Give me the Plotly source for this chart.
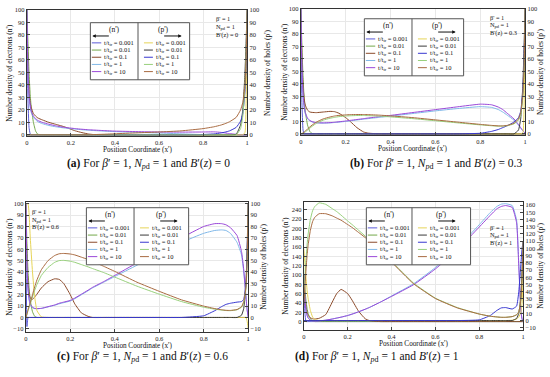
import plotly.graph_objects as go

W, H = 550, 377

# ---------------- data ----------------
x_pos = [0, 0.005, 0.01, 0.015, 0.02, 0.03, 0.04, 0.05, 0.07, 0.1,
         0.13, 0.15, 0.17, 0.2, 0.22, 0.25, 0.28, 0.3, 0.35, 0.4,
         0.5, 0.6, 0.7, 0.8, 0.85, 0.88, 0.9, 0.92, 0.95, 0.97,
         0.98, 0.99, 0.995, 1.0]

t_values = ["0.001", "0.01", "0.1", "1", "10"]
n_colors = ["#5b5bd8", "#74a84a", "#8b4a2a", "#80b8e8", "#9a48d8"]
p_colors = ["#e6d458", "#3a3a3a", "#3838d0", "#98d07c", "#a86a40"]

# panel (a)  B'(z) = 0
a_n1 = [100, 30, 6, 1, 0, 0, 0, 0, 0, 0,  0, 0, 0, 0, 0, 0, 0, 0, 0, 0,  0, 0, 0, 0, 0, 0, 0, 0, 0, 0,  0, 0, 0, 0]
a_n2 = [100, 75, 50, 33, 22, 10, 3, 0.5, 0, 0,  0, 0, 0, 0, 0, 0, 0, 0, 0, 0,  0, 0, 0, 0, 0, 0, 0, 0, 0, 0,  0, 0, 0, 0]
a_n3 = [100, 55, 35, 26, 22, 17, 15, 13.5, 12, 10,  8.5, 7.5, 6.5, 4.5, 3.2, 1.8, 0.7, 0.3, 0, 0,  0, 0, 0, 0, 0, 0, 0, 0, 0, 0,  0, 0, 0, 0]
a_n4 = [100, 50, 30, 22, 18, 14, 12, 10.5, 9, 7.5,  6.5, 6, 5.5, 5, 4.6, 4.1, 3.7, 3.5, 3, 2.6,  2, 1.5, 0.8, 0.2, 0, 0, 0, 0, 0, 0,  0, 0, 0, 0]
a_n5 = [100, 52, 32, 24, 19, 15, 13, 11.5, 10, 8.5,  7.3, 6.6, 6, 5.4, 5, 4.5, 4.1, 3.9, 3.4, 3,  2.6, 2.3, 2.2, 2.3, 2.4, 2, 1.5, 1, 0.4, 0,  0, 0, 0, 0]
a_p1 = [0, 0, 0, 0, 0, 0, 0, 0, 0, 0,  0, 0, 0, 0, 0, 0, 0, 0, 0, 0,  0, 0, 0, 0, 0, 0, 0, 0, 0, 0,  0, 2, 25, 100]
a_p2 = [0, 0, 0, 0, 0, 0, 0, 0, 0, 0,  0, 0, 0, 0, 0, 0, 0, 0, 0, 0,  0, 0, 0, 0, 0, 0, 0, 0, 0.5, 8,  20, 50, 75, 100]
a_p3 = [0, 0, 0, 0, 0, 0, 0, 0, 0, 0,  0, 0, 0, 0, 0, 0, 0, 0, 0, 0,  0, 0, 0, 0.3, 0.8, 1.5, 2.2, 3.2, 6, 11,  17, 35, 55, 100]
a_p4 = [0, 0, 0, 0, 0, 0, 0, 0, 0, 0,  0, 0, 0, 0, 0, 0, 0, 0, 0, 0,  0, 0, 0, 0, 0, 0, 0, 0, 0, 5,  15, 40, 65, 100]
a_p5 = [0, 0, 0, 0, 0, 0, 0, 0, 0, 0,  0, 0, 0, 0, 0, 0, 0, 0.2, 0.5, 0.9,  1.6, 2.3, 3.2, 5, 6.5, 7.8, 9, 10.5, 14, 20,  26, 40, 60, 100]

# panel (b)  B'(z) = 0.3
b_n1 = [100, 25, 3, 0, 0, 0, 0, 0, 0, 0,  0, 0, 0, 0, 0, 0, 0, 0, 0, 0,  0, 0, 0, 0, 0, 0, 0, 0, 0, 0,  0, 0, 0, 0]
b_n2 = [100, 70, 45, 28, 18, 7, 2, 0.3, 0, 0,  0, 0, 0, 0, 0, 0, 0, 0, 0, 0,  0, 0, 0, 0, 0, 0, 0, 0, 0, 0,  0, 0, 0, 0]
b_n3 = [100, 60, 38, 28, 23, 19, 17.5, 17.2, 17, 17.5,  18, 17.8, 16.5, 13, 10, 5, 1.5, 0.6, 0, 0,  0, 0, 0, 0, 0, 0, 0, 0, 0, 0,  0, 0, 0, 0]
b_n4 = [100, 50, 30, 21, 16, 12, 10.5, 9.6, 8.8, 8.6,  8.8, 9.1, 9.4, 10, 10.4, 11.1, 11.8, 12.2, 13.2, 14.2,  16.3, 18.4, 20.3, 21.8, 21.2, 19.5, 17.5, 15, 11, 7,  4.5, 2.5, 1.5, 0.5]
b_n5 = [100, 52, 32, 22, 17, 12.5, 10.8, 9.8, 9, 8.8,  9, 9.3, 9.7, 10.3, 10.8, 11.5, 12.2, 12.7, 13.8, 14.8,  17.1, 19.4, 21.7, 23.8, 23.3, 21.5, 19.5, 16.5, 12, 7.5,  5, 2.5, 1.5, 0.5]
b_p1 = [0, 0, 0, 0, 0, 0, 0, 0, 0, 0,  0, 0, 0, 0, 0, 0, 0, 0, 0, 0,  0, 0, 0, 0, 0, 0, 0, 0, 0, 0,  0, 1, 20, 100]
b_p2 = [0, 0, 0, 0, 0, 0, 0, 0, 0, 0,  0, 0, 0, 0, 0, 0, 0, 0, 0, 0,  0, 0, 0, 0, 0, 0, 0, 0, 0, 3,  12, 40, 70, 100]
b_p3 = [0, 0, 0, 0, 0, 0, 0, 0, 0, 0,  0, 0, 0, 0, 0, 0, 0, 0, 0, 0,  0, 0, 0, 0.5, 2, 3.5, 5, 6.5, 9.5, 13,  18, 35, 60, 100]
b_p4 = [0, 0.2, 0.5, 1, 1.6, 3, 4.5, 6, 8.5, 11,  12.5, 13.2, 13.8, 14.3, 14.5, 14.7, 14.7, 14.6, 14.2, 13.6,  12.2, 10.5, 8.8, 7.2, 6.5, 6.2, 6.2, 6.5, 8, 11,  15, 30, 50, 100]
b_p5 = [0, 0.3, 0.8, 1.5, 2.2, 4, 5.5, 7, 9.5, 12,  13.5, 14.3, 14.8, 15.2, 15.4, 15.5, 15.5, 15.4, 15, 14.4,  13, 11.2, 9.4, 7.6, 6.8, 6.4, 6.4, 6.8, 8.5, 12,  17, 32, 52, 100]

# panel (c)  B'(z) = 0.6
c_n1 = [100, -8, 0, 0, 0, 0, 0, 0, 0, 0,  0, 0, 0, 0, 0, 0, 0, 0, 0, 0,  0, 0, 0, 0, 0, 0, 0, 0, 0, 0,  0, 0, 0, 0]
c_n2 = [100, 65, 40, 25, 15, 5, 1, 0, 0, 0,  0, 0, 0, 0, 0, 0, 0, 0, 0, 0,  0, 0, 0, 0, 0, 0, 0, 0, 0, 0,  0, 0, 0, 0]
c_n3 = [100, 50, 30, 21, 17, 16, 18, 20.5, 26, 31.5,  34, 33.5, 30, 20, 12, 4, 1, 0, 0, 0,  0, 0, 0, 0, 0, 0, 0, 0, 0, 0,  0, 0, 0, 0]
c_n4 = [100, 44, 24, 15, 11, 8.5, 7.8, 7.7, 8, 9.3,  10.8, 12, 13, 14.5, 16.5, 20, 23.5, 26, 31, 36,  46, 56.5, 66, 74, 76.5, 77, 76.5, 74, 66, 55,  40, 18, 7, 0]
c_n5 = [100, 45, 25, 16, 12, 9, 8, 7.8, 8, 9.5,  11, 12.5, 13.5, 15, 17, 20.5, 24, 26.5, 31.5, 37,  48, 59, 70, 80, 82.5, 82.5, 81.5, 79, 72, 58,  42, 18, 7, 0]
c_p1 = [100, 100, 100, 90, 70, 40, 18, 6, 0.5, 0,  0, 0, 0, 0, 0, 0, 0, 0, 0, 0,  0, 0, 0, 0, 0, 0, 0, 0, 0, 0,  0, 0, -3, -10]
c_p2 = [0, 0, 0, 0, 0, 0, 0, 0, 0, 0,  0, 0, 0, 0, 0, 0, 0, 0, 0, 0,  0, 0, 0, 0, 0, 0, 0, 0, 0, 2,  8, 30, 60, 100]
c_p3 = [0, 0, 0, 0, 0, 0, 0, 0, 0, 0,  0, 0, 0, 0, 0, 0, 0, 0, 0, 0,  0, 0, 0, 1.5, 6, 9.5, 11.5, 12.5, 13.5, 14,  16, 30, 55, 100]
c_p4 = [0, 3, 6, 9, 12, 18, 24, 29, 37, 44,  48.5, 50, 50.2, 49.5, 48.5, 46.5, 44.5, 43, 39.5, 35.5,  27.5, 20.5, 14, 9, 7.3, 6.5, 6.1, 6, 6.8, 9,  13, 25, 45, 100]
c_p5 = [0, 3, 7, 10, 13, 20, 27, 33, 42, 50,  54.5, 56, 56.3, 55.8, 55, 53, 51, 49.5, 45, 40.5,  31, 23, 15.5, 10, 7.8, 6.8, 6.3, 6.2, 7, 9.5,  14, 27, 48, 100]

# panel (d)  B'(z) = 1
d_n1 = [100, 20, 0, 0, 0, 0, 0, 0, 0, 0,  0, 0, 0, 0, 0, 0, 0, 0, 0, 0,  0, 0, 0, 0, 0, 0, 0, 0, 0, 0,  0, 0, 0, 0]
d_n2 = [100, 70, 45, 28, 17, 6, 1.5, 0, 0, 0,  0, 0, 0, 0, 0, 0, 0, 0, 0, 0,  0, 0, 0, 0, 0, 0, 0, 0, 0, 0,  0, 0, 0, 0]
d_n3 = [100, 55, 32, 20, 13, 8, 6, 5.5, 7, 15,  42, 60, 69, 60, 46, 22, 6, 2, 0, 0,  0, 0, 0, 0, 0, 0, 0, 0, 0, 0,  0, 0, 0, 0]
d_n4 = [100, 50, 25, 14, 8, 3, 1.5, 1, 1.5, 3,  5.5, 7.5, 9.5, 13, 16, 21, 26.5, 30.5, 42, 55,  81, 116, 158, 208, 234, 247, 252, 253, 249, 218,  125, 22, 6, 0]
d_n5 = [100, 48, 24, 13, 7.5, 3, 1.5, 1, 1.5, 3,  5.5, 7.5, 9.5, 13, 16, 21, 26.5, 30.5, 42, 54,  79, 113, 154, 203, 228, 242, 247, 249, 245, 212,  118, 19, 5, 0]
d_p1 = [100, 80, 60, 42, 30, 14, 5, 1.5, 0, 0,  0, 0, 0, 0, 0, 0, 0, 0, 0, 0,  0, 0, 0, 0, 0, 0, 0, 0, 0.5, 2,  5, 12, 25, 60]
d_p2 = [0, 0, 0, 0, 0, 0, 0, 0, 0, 0,  0, 0, 0, 0, 0, 0, 0, 0, 0, 0,  0, 0, 0, 0, 0, 0, 0, 0, 0, 3,  10, 35, 70, 110]
d_p3 = [0, 0, 0, 0, 0, 0, 0, 0, 0, 0,  0, 0, 0, 0, 0, 0, 0, 0, 0, 0,  0, 0, 0, 1, 7, 14, 17.5, 18, 16, 20,  40, 80, 100, 110]
d_p4 = [30, 60, 85, 105, 120, 140, 152, 158, 163, 161,  155, 151, 146, 138, 133, 125, 117, 111, 97, 82,  52, 31, 18, 9, 6, 5, 4.5, 4.5, 5.5, 8,  12, 30, 60, 110]
d_p5 = [20, 45, 70, 90, 105, 125, 137, 143, 148, 148,  145, 142, 139, 133, 129, 122, 115, 110, 96, 81,  51, 30.5, 17.5, 9, 6, 5, 4.5, 4.5, 5.5, 8,  12, 30, 60, 110]

x_ticks = [0, 0.2, 0.4, 0.6, 0.8, 1]
x_tick_text = ["0", "0.2", "0.4", "0.6", "0.8", "1"]
ticks_0_100 = [0, 10, 20, 30, 40, 50, 60, 70, 80, 90, 100]
ticks_m10_100 = [-10, 0, 10, 20, 30, 40, 50, 60, 70, 80, 90, 100]
ticks_d_left = [0, 20, 40, 60, 80, 100, 120, 140, 160, 180, 200, 220, 240]
ticks_d_right = [-10, 0, 10, 20, 30, 40, 50, 60, 70, 80, 90, 100, 110, 120, 130, 140, 150, 160]

panel_letters = ["a", "b", "c", "d"]
field_values = ["0", "0.3", "0.6", "1"]

# ---------------- layout helpers ----------------
SERIF = "Liberation Serif"


def fx(p):
    return p / W


def fy(p):
    return 1 - p / H


panels = [
    dict(xd=(25, 247), yd=(6, 134), lr=[-0.8, 100], rr=[-0.8, 100],
         lt=ticks_0_100, rt=ticks_0_100,
         n=[a_n1, a_n2, a_n3, a_n4, a_n5], p=[a_p1, a_p2, a_p3, a_p4, a_p5],
         leg=(89, 19, 189, 137), info=(214, 15),
         ytl=8, ytr=268, xt=(136, 148), cap=(148, 163)),
    dict(xd=(301, 527), yd=(5, 133), lr=[-0.8, 100], rr=[-0.8, 100],
         lt=ticks_0_100, rt=ticks_0_100,
         n=[b_n1, b_n2, b_n3, b_n4, b_n5], p=[b_p1, b_p2, b_p3, b_p4, b_p5],
         leg=(365, 15, 465, 413), info=(490, 13.5),
         ytl=285, ytr=543, xt=(414, 147), cap=(437, 163)),
    dict(xd=(24, 248), yd=(201, 333), lr=[-12.5, 101.7], rr=[-12.5, 101.7],
         lt=ticks_m10_100, rt=ticks_m10_100,
         n=[c_n1, c_n2, c_n3, c_n4, c_n5], p=[c_p1, c_p2, c_p3, c_p4, c_p5],
         leg=(85, 207, 188, 133), info=(28, 211),
         ytl=8, ytr=264, xt=(136, 347.5), cap=(142, 359)),
    dict(xd=(304, 525), yd=(201, 331), lr=[-17.5, 257], rr=[-12.7, 164.5],
         lt=ticks_d_left, rt=ticks_d_right,
         n=[d_n1, d_n2, d_n3, d_n4, d_n5], p=[d_p1, d_p2, d_p3, d_p4, d_p5],
         leg=(367, 207, 472, 413), info=(490, 227),
         ytl=286, ytr=543, xt=(415, 346), cap=(378, 359)),
]

fig = go.Figure()
shapes = []
annotations = []
tick_font = dict(family=SERIF, size=6.5, color="#222")


def text_ann(x, y, text, size, **kw):
    d = dict(xref="paper", yref="paper", x=fx(x), y=fy(y), text=text,
             xanchor="center", yanchor="middle",
             showarrow=False, font=dict(family=SERIF, size=size, color="#111"))
    d.update(kw)
    return d


for i, pn in enumerate(panels, start=1):
    xa = "x" if i == 1 else f"x{i}"
    ya = "y" if i == 1 else f"y{i}"
    yr = f"y{i + 4}"
    xdom = [fx(pn["xd"][0]), fx(pn["xd"][1])]
    ydom = [fy(pn["yd"][1]), fy(pn["yd"][0])]

    fig.update_layout({
        ("xaxis" if i == 1 else f"xaxis{i}"): dict(
            domain=xdom, anchor=ya, range=[0, 1], tickvals=x_ticks, ticktext=x_tick_text,
            ticks="inside", ticklen=3, tickwidth=0.8, showline=True, mirror=True,
            linecolor="#333", linewidth=1, showgrid=True, gridcolor="#e8e8e8",
            gridwidth=0.6, zeroline=False, tickfont=tick_font),
        ("yaxis" if i == 1 else f"yaxis{i}"): dict(
            domain=ydom, anchor=xa, range=pn["lr"], tickvals=pn["lt"],
            ticks="inside", ticklen=3, tickwidth=0.8, showline=True,
            linecolor="#333", linewidth=1, showgrid=True, gridcolor="#e8e8e8",
            gridwidth=0.6, zeroline=False, tickfont=tick_font),
        f"yaxis{i + 4}": dict(
            domain=ydom, anchor=xa, overlaying=ya, side="right", range=pn["rr"],
            tickvals=pn["rt"], ticks="inside", ticklen=3, tickwidth=0.8,
            showline=True, linecolor="#333", linewidth=1, showgrid=False,
            zeroline=False, tickfont=tick_font),
    })

    for k in range(5):
        fig.add_trace(go.Scatter(
            x=x_pos, y=pn["n"][k], mode="lines", xaxis=xa, yaxis=ya,
            line=dict(color=n_colors[k], width=1, shape="spline", smoothing=0.4),
            name=f"n' t/ttr = {t_values[k]}", showlegend=False, hoverinfo="skip"))
    for k in range(5):
        fig.add_trace(go.Scatter(
            x=x_pos, y=pn["p"][k], mode="lines", xaxis=xa, yaxis=yr,
            line=dict(color=p_colors[k], width=1, shape="spline", smoothing=0.4),
            name=f"p' t/ttr = {t_values[k]}", showlegend=False, hoverinfo="skip"))

    # legend box drawn inside the plot
    L, T, R, D = pn["leg"]
    B = T + 58
    shapes.append(dict(type="rect", xref="paper", yref="paper",
                       x0=fx(L), x1=fx(R), y0=fy(B), y1=fy(T),
                       line=dict(color="#555", width=1), fillcolor="white", layer="above"))
    shapes.append(dict(type="line", xref="paper", yref="paper",
                       x0=fx(D), x1=fx(D), y0=fy(B), y1=fy(T),
                       line=dict(color="#555", width=1), layer="above"))
    annotations.append(text_ann((L + D) / 2, T + 6.5, "(n')", 7.5))
    annotations.append(text_ann((D + R) / 2, T + 6.5, "(p')", 7.5))
    annotations.append(dict(xref="paper", yref="paper", x=fx(L + 2), y=fy(T + 13.5),
                            ax=18, ay=0, text="", showarrow=True, arrowhead=2,
                            arrowsize=0.7, arrowwidth=1, arrowcolor="#111"))
    annotations.append(dict(xref="paper", yref="paper", x=fx(D + 44), y=fy(T + 13.5),
                            ax=-19, ay=0, text="", showarrow=True, arrowhead=2,
                            arrowsize=0.7, arrowwidth=1, arrowcolor="#111"))
    for k in range(5):
        yy = T + 20.5 + 7.3 * k
        shapes.append(dict(type="line", xref="paper", yref="paper",
                           x0=fx(L + 1.5), x1=fx(L + 11), y0=fy(yy), y1=fy(yy),
                           line=dict(color=n_colors[k], width=1), layer="above"))
        shapes.append(dict(type="line", xref="paper", yref="paper",
                           x0=fx(D + 6), x1=fx(D + 15), y0=fy(yy), y1=fy(yy),
                           line=dict(color=p_colors[k], width=1), layer="above"))
        label = f"t/t<sub>tr</sub> = {t_values[k]}"
        annotations.append(text_ann(L + 12, yy, label, 6.5, xanchor="left"))
        annotations.append(text_ann(D + 16, yy, label, 6.5, xanchor="left"))

    # info text (three lines)
    ix, iy = pn["info"]
    annotations.append(text_ann(ix, iy, "β' = 1", 6.3, xanchor="left"))
    annotations.append(text_ann(ix, iy + 8, "N<sub>pd</sub> = 1", 6.3, xanchor="left"))
    annotations.append(text_ann(ix, iy + 16, f"B'(z) = {field_values[i - 1]}", 6.3, xanchor="left"))

    # axis titles
    yc = (pn["yd"][0] + pn["yd"][1]) / 2
    annotations.append(text_ann(pn["ytl"], yc, "Number density of electrons (n')", 7.5, textangle=-90))
    annotations.append(text_ann(pn["ytr"], yc, "Number density of holes (p')", 7.5, textangle=-90))
    annotations.append(text_ann(pn["xt"][0], pn["xt"][1], "Position Coordinate (x')", 7.2))

    # caption below the panel
    cap = (f"<b>({panel_letters[i - 1]})</b> For <i>β</i>′ = 1, <i>N</i><sub><i>p</i>d</sub> = 1 "
           f"and <i>B</i>′(<i>z</i>) = {field_values[i - 1]}")
    annotations.append(text_ann(pn["cap"][0], pn["cap"][1], cap, 11.5))

fig.update_layout(
    width=W, height=H, margin=dict(l=0, r=0, t=0, b=0),
    paper_bgcolor="white", plot_bgcolor="white", showlegend=False,
    shapes=shapes, annotations=annotations,
)

fig.write_html("out.html", config={"displayModeBar": False},
               post_script="document.body.style.margin='0';document.body.style.padding='0';")
